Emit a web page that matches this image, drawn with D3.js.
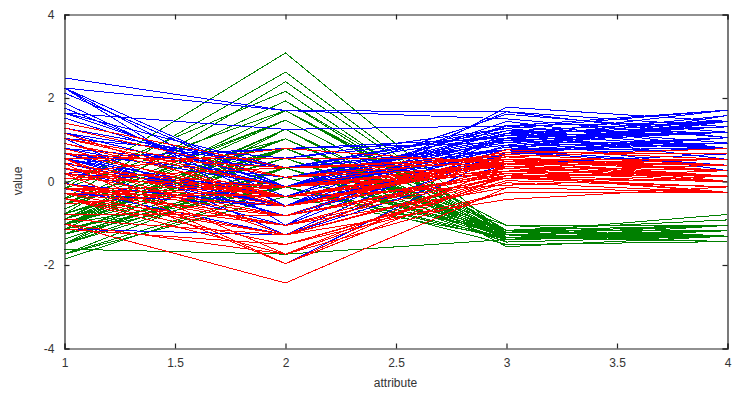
<!DOCTYPE html>
<html>
<head>
<meta charset="utf-8">
<script src="https://cdn.jsdelivr.net/npm/d3@7/dist/d3.min.js"></script>
<style>
  html, body { margin: 0; padding: 0; background: #fff; }
  svg { display: block; }
  text { font-family: "Liberation Sans", Arial, Helvetica, sans-serif; fill: #333; }
</style>
</head>
<body>
<svg id="chart" width="752" height="394"></svg>
<script>
// Attributes (x positions) and tick labels
const attributes = [1, 2, 3, 4];
const xTicks = [1, 1.5, 2, 2.5, 3, 3.5, 4];
const yTicks = [-4, -2, 0, 2, 4];

// Standardized values (z-scores) per sample, one row = [attr1, attr2, attr3, attr4]
const greenRows = [
[-0.90,1.02,-1.34,-1.31],[-1.14,-0.13,-1.34,-1.31],[-1.38,0.33,-1.39,-1.31],[-1.50,0.10,-1.28,-1.31],
[-1.02,1.25,-1.34,-1.31],[-0.54,1.93,-1.17,-1.05],[-1.50,0.79,-1.34,-1.18],[-1.02,0.79,-1.28,-1.31],
[-1.74,-0.36,-1.34,-1.31],[-1.14,0.10,-1.28,-1.44],[-0.54,1.47,-1.28,-1.31],[-1.26,0.79,-1.22,-1.31],
[-1.26,-0.13,-1.34,-1.44],[-1.86,-0.13,-1.51,-1.44],[-0.05,2.16,-1.45,-1.31],[-0.17,3.08,-1.28,-1.05],
[-0.54,1.93,-1.39,-1.05],[-0.90,1.02,-1.34,-1.18],[-0.17,1.70,-1.17,-1.18],[-0.90,1.70,-1.28,-1.18],
[-0.54,0.79,-1.17,-1.31],[-0.90,1.47,-1.28,-1.05],[-1.50,1.25,-1.56,-1.31],[-0.90,0.56,-1.17,-0.92],
[-1.26,0.79,-1.05,-1.31],[-1.02,-0.13,-1.22,-1.31],[-1.02,0.79,-1.22,-1.05],[-0.78,1.02,-1.28,-1.31],
[-0.78,0.79,-1.34,-1.31],[-1.38,0.33,-1.22,-1.31],[-1.26,0.10,-1.22,-1.31],[-0.54,0.79,-1.28,-1.05],
[-0.78,2.39,-1.28,-1.44],[-0.41,2.62,-1.34,-1.31],[-1.14,0.10,-1.28,-1.31],[-1.02,0.33,-1.45,-1.31],
[-0.41,1.02,-1.39,-1.31],[-1.14,1.25,-1.34,-1.44],[-1.74,-0.13,-1.39,-1.31],[-0.90,0.79,-1.28,-1.31],
[-1.02,1.02,-1.39,-1.18],[-1.62,-1.74,-1.39,-1.18],[-1.74,0.33,-1.39,-1.31],[-1.02,1.02,-1.22,-0.79],
[-0.90,1.70,-1.05,-1.05],[-1.26,-0.13,-1.34,-1.18],[-0.90,1.70,-1.22,-1.31],[-1.50,0.33,-1.34,-1.31],
[-0.66,1.47,-1.28,-1.31],[-1.02,0.56,-1.34,-1.31]
];
const redRows = [
[1.40,0.33,0.53,0.26],[0.67,0.33,0.42,0.39],[1.28,0.10,0.65,0.39],[-0.41,-1.74,0.14,0.13],
[0.79,-0.59,0.48,0.39],[-0.17,-0.59,0.42,0.13],[0.55,0.56,0.53,0.53],[-1.14,-1.51,-0.26,-0.26],
[0.91,-0.36,0.48,0.13],[-0.78,-0.82,0.08,0.26],[-1.02,-2.43,-0.15,-0.26],[0.07,-0.13,0.25,0.39],
[0.19,-1.97,0.14,-0.26],[0.31,-0.36,0.53,0.26],[-0.29,-0.36,-0.09,0.13],[1.03,0.10,0.36,0.26],
[-0.29,-0.13,0.42,0.39],[-0.05,-0.82,0.19,-0.26],[0.43,-1.97,0.42,0.39],[-0.29,-1.28,0.08,-0.13],
[0.07,0.33,0.59,0.79],[0.31,-0.59,0.14,0.13],[0.55,-1.28,0.65,0.39],[0.31,-0.59,0.53,0.00],
[0.67,-0.36,0.31,0.13],[0.91,-0.13,0.36,0.26],[1.16,-0.59,0.59,0.26],[1.03,-0.13,0.70,0.66],
[0.19,-0.36,0.42,0.39],[-0.17,-1.05,-0.15,-0.26],[-0.41,-1.51,0.02,-0.13],[-0.41,-1.51,-0.03,-0.26],
[-0.05,-0.82,0.08,0.00],[0.19,-0.82,0.76,0.53],[-0.54,-0.13,0.42,0.39],[0.19,0.79,0.42,0.53],
[1.03,0.10,0.53,0.39],[0.55,-1.74,0.36,0.13],[-0.29,-0.13,0.19,0.13],[-0.41,-1.28,0.14,0.13],
[-0.41,-1.05,0.36,0.00],[0.31,-0.13,0.48,0.26],[-0.05,-1.05,0.14,0.00],[-1.02,-1.74,-0.26,-0.26],
[-0.29,-0.82,0.25,0.13],[-0.17,-0.13,0.25,0.00],[-0.17,-0.36,0.25,0.13],[0.43,-0.36,0.31,0.13],
[-0.90,-1.28,-0.43,-0.13],[-0.17,-0.59,0.19,0.13]
];
const blueRows = [
[0.55,0.56,1.27,1.71],[-0.05,-0.82,0.76,0.92],[1.52,-0.13,1.21,1.18],[0.55,-0.36,1.04,0.79],
[0.79,-0.13,1.16,1.31],[2.12,-0.13,1.61,1.18],[-1.14,-1.28,0.42,0.66],[1.76,-0.36,1.44,0.79],
[1.03,-1.28,1.16,0.79],[1.64,1.25,1.33,1.71],[0.79,0.33,0.76,1.05],[0.67,-0.82,0.87,0.92],
[1.16,-0.13,0.99,1.18],[-0.17,-1.28,0.70,1.05],[-0.05,-0.59,0.76,1.58],[0.67,0.33,0.87,1.44],
[0.79,-0.13,0.99,0.79],[2.24,1.70,1.67,1.31],[2.24,-1.05,1.78,1.44],[0.19,-1.97,0.70,0.39],
[1.28,0.33,1.10,1.44],[-0.29,-0.59,0.65,1.05],[2.24,-0.59,1.67,1.05],[0.55,-0.82,0.65,0.79],
[1.03,0.56,1.10,1.18],[1.64,0.33,1.27,0.79],[0.43,-0.59,0.59,0.79],[0.31,-0.13,0.65,0.79],
[0.67,-0.59,1.04,1.18],[1.64,-0.13,1.16,0.53],[1.88,-0.59,1.33,0.92],[2.48,1.70,1.50,1.05],
[0.67,-0.59,1.04,1.31],[0.55,-0.59,0.76,0.39],[0.31,-1.05,1.04,0.26],[2.24,-0.13,1.33,1.44],
[0.55,0.79,1.04,1.58],[0.67,0.10,0.99,0.79],[0.19,-0.13,0.59,0.79],[1.28,0.10,0.93,1.18],
[1.03,0.10,1.04,1.58],[1.28,0.10,0.76,1.44],[-0.05,-0.82,0.76,0.92],[1.16,0.33,1.21,1.44],
[1.03,0.56,1.10,1.71],[1.03,-0.13,0.82,1.44],[0.55,-1.28,0.70,0.92],[0.79,-0.13,0.82,1.05],
[0.43,0.79,0.93,1.44],[0.07,-0.13,0.76,0.79]
];

const groups = [
  { rows: greenRows, color: "#008000" },
  { rows: blueRows,  color: "#0000ff" },
  { rows: redRows,   color: "#ff0000" }
];

const padL = 64, padR = 727, padT = 14, padB = 348;
const svg = d3.select("#chart");

const x = d3.scaleLinear().domain([1, 4]).range([padL + 0.5, padR + 0.5]);
const y = d3.scaleLinear().domain([-4, 4]).range([padB + 0.5, padT + 0.5]);

const line = d3.line()
  .x((d, i) => x(attributes[i]))
  .y(d => y(d));

const plot = svg.append("g");
groups.forEach(g => {
  plot.selectAll(null)
    .data(g.rows)
    .enter().append("path")
    .attr("d", line)
    .attr("fill", "none")
    .attr("stroke", g.color)
    .attr("stroke-width", 1)
    .attr("shape-rendering", "crispEdges");
});

// Axes: inward ticks with mirrored ticks on top/right
const fmt = d => String(d);
const axB = svg.append("g").attr("transform", `translate(0,${padB + 0.5})`)
  .call(d3.axisBottom(x).tickValues(xTicks).tickSize(-5).tickPadding(10).tickFormat(fmt));
const axT = svg.append("g").attr("transform", `translate(0,${padT + 0.5})`)
  .call(d3.axisTop(x).tickValues(xTicks).tickSize(-5).tickFormat(""));
const axL = svg.append("g").attr("transform", `translate(${padL + 0.5},0)`)
  .call(d3.axisLeft(y).tickValues(yTicks).tickSize(-5).tickPadding(10).tickFormat(fmt));
const axR = svg.append("g").attr("transform", `translate(${padR + 0.5},0)`)
  .call(d3.axisRight(y).tickValues(yTicks).tickSize(-5).tickFormat(""));

[axB, axT, axL, axR].forEach(a => {
  a.select(".domain").attr("stroke", "#222").attr("stroke-width", 1.2);
  a.selectAll(".tick line").attr("stroke", "#222").attr("stroke-width", 1.2);
  a.selectAll("text").attr("font-size", 12).attr("fill", "#333")
    .style("font-family", "'Liberation Sans', Arial, sans-serif");
});

svg.append("text")
  .attr("x", (padL + padR) / 2)
  .attr("y", 387)
  .attr("text-anchor", "middle")
  .attr("font-size", 12)
  .text("attribute");

svg.append("text")
  .attr("transform", `translate(22,${(padT + padB) / 2}) rotate(-90)`)
  .attr("text-anchor", "middle")
  .attr("font-size", 12)
  .text("value");
</script>
</body>
</html>
